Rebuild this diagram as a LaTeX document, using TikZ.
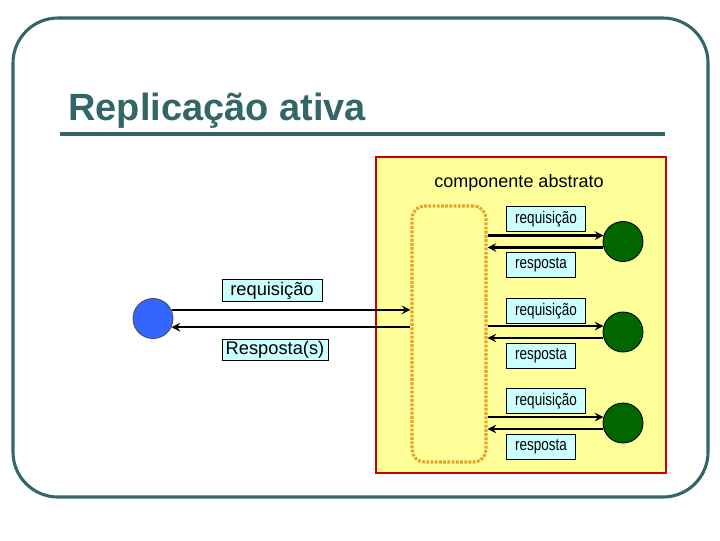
\documentclass[tikz,border=0pt]{standalone}
\usepackage{fontspec}
\setmainfont{Liberation Sans}
\newfontfamily\narrowsans[FakeStretch=0.8]{Liberation Sans}
\usepackage{tikz}
\usetikzlibrary{positioning,arrows,shapes,calc}

\definecolor{slateteal}{RGB}{51,102,102}
\definecolor{boxred}{RGB}{204,0,0}
\definecolor{paleyellow}{RGB}{255,255,153}
\definecolor{paleblue}{RGB}{204,255,255}
\definecolor{hubgold}{RGB}{228,164,44}
\definecolor{replgreen}{RGB}{0,102,0}
\definecolor{clientblue}{RGB}{51,102,255}

\begin{document}
\begin{tikzpicture}[x=0.025cm,y=-0.025cm,
  tag/.style={rectangle,draw=black,line width=0.5pt,fill=paleblue,inner sep=0pt,minimum width=#1,font=\narrowsans\fontsize{12}{14}\selectfont,minimum height=0.62cm},
  bigtag/.style={rectangle,draw=black,line width=0.5pt,fill=paleblue,inner sep=0pt,minimum width=#1,font=\fontsize{13}{15}\selectfont,minimum height=0.54cm},
  replica/.style={circle,draw=black,line width=0.6pt,fill=replgreen,minimum size=1cm,inner sep=0pt},
  hub/.style={rectangle,draw=hubgold,line width=2.2pt,dash pattern=on 2pt off 1pt,rounded corners=9pt,minimum width=1.85cm,minimum height=6.4cm},
  msg/.style={->,>=stealth,line width=1.7pt},
]
\useasboundingbox (0,0) rectangle (720,540);

% === FRAME AND TITLE ===
\draw[slateteal,line width=2.2pt,rounded corners=32pt] (13,18) rectangle (708,497);
\node[anchor=base west,inner sep=0pt,text=slateteal,font=\fontsize{27}{30}\selectfont\bfseries] (title) at (68,120) {Replicação ativa};
\draw[slateteal,line width=3pt] (60,134) -- (665,134);

% === ABSTRACT COMPONENT ===
\node[rectangle,draw=boxred,line width=1.5pt,fill=paleyellow,minimum width=7.25cm,minimum height=7.9cm] (comp) at (521,315) {};
\node[font=\fontsize{12.8}{15}\selectfont] (comptitle) at (519,183) {componente abstrato};
\node[hub] (hub) at (449,334) {};

\node[replica] (r1) at (623,241.5) {};
\node[replica] (r2) at (623,332) {};
\node[replica] (r3) at (623,423) {};

\node[tag=1.98cm] (req1) at (546,219) {requisição};
\node[tag=1.73cm] (resp1) at (541,265) {resposta};
\node[tag=1.98cm] (req2) at (546,311) {requisição};
\node[tag=1.73cm] (resp2) at (541,356) {resposta};
\node[tag=1.98cm] (req3) at (546,401) {requisição};
\node[tag=1.73cm] (resp3) at (541,447) {resposta};

\draw[msg] (hub.east |- r1.163) -- (r1.163);
\draw[msg] (r1.197) -- (hub.east |- r1.197);
\draw[msg] (hub.east |- r2.163) -- (r2.163);
\draw[msg] (r2.197) -- (hub.east |- r2.197);
\draw[msg] (hub.east |- r3.163) -- (r3.163);
\draw[msg] (r3.197) -- (hub.east |- r3.197);

% === CLIENT ===
\node[circle,draw=black!70,line width=0.6pt,fill=clientblue,minimum size=1cm,inner sep=0pt] (client) at (153,318.5) {};
\node[bigtag=2.5cm] (lreq) at (272,290.5) {requisição};
\node[bigtag=2.65cm] (lresp) at (275,350) {Resposta(s)};

\draw[msg] (client.25) -- (hub.west |- client.25);
\draw[msg] (hub.west |- client.-25) -- (client.-25);

\end{tikzpicture}
\end{document}
